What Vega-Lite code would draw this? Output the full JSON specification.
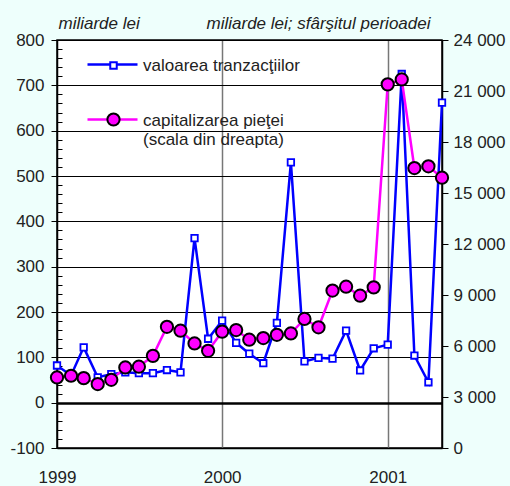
{
  "$schema": "https://vega.github.io/schema/vega-lite/v6.json",
  "width": 385,
  "height": 408,
  "autosize": {"type": "none"},
  "padding": {"left": 57, "top": 40, "right": 68, "bottom": 38},
  "background": "#EEFFFC",
  "config": {
    "view": {"fill": "white", "stroke": "black", "strokeWidth": 1.5},
    "font": "Liberation Sans",
    "axis": {
      "labelFont": "Liberation Sans",
      "labelFontSize": 17,
      "labelColor": "#222222",
      "titleFont": "Liberation Sans",
      "titleFontSize": 17,
      "titleFontWeight": "normal",
      "titleFontStyle": "italic",
      "titleColor": "#222222"
    },
    "legend": {
      "labelFont": "Liberation Sans",
      "labelFontSize": 17,
      "labelColor": "#222222",
      "labelLimit": 400,
      "padding": 0
    }
  },
  "data": {
    "values": [
      {"date": "1999-01-01", "tranz": 82, "cap": 4150},
      {"date": "1999-02-01", "tranz": 60, "cap": 4250},
      {"date": "1999-03-01", "tranz": 122, "cap": 4110},
      {"date": "1999-04-01", "tranz": 56, "cap": 3760},
      {"date": "1999-05-01", "tranz": 63, "cap": 4010},
      {"date": "1999-06-01", "tranz": 67, "cap": 4740},
      {"date": "1999-07-01", "tranz": 65, "cap": 4780},
      {"date": "1999-08-01", "tranz": 65, "cap": 5420},
      {"date": "1999-09-01", "tranz": 72, "cap": 7130},
      {"date": "1999-10-01", "tranz": 67, "cap": 6900},
      {"date": "1999-11-01", "tranz": 363, "cap": 6150},
      {"date": "1999-12-01", "tranz": 141, "cap": 5720},
      {"date": "2000-01-01", "tranz": 181, "cap": 6840},
      {"date": "2000-02-01", "tranz": 132, "cap": 6940},
      {"date": "2000-03-01", "tranz": 108, "cap": 6370},
      {"date": "2000-04-01", "tranz": 87, "cap": 6470},
      {"date": "2000-05-01", "tranz": 176, "cap": 6660},
      {"date": "2000-06-01", "tranz": 530, "cap": 6740},
      {"date": "2000-07-01", "tranz": 91, "cap": 7590},
      {"date": "2000-08-01", "tranz": 99, "cap": 7100},
      {"date": "2000-09-01", "tranz": 97, "cap": 9260},
      {"date": "2000-10-01", "tranz": 159, "cap": 9490},
      {"date": "2000-11-01", "tranz": 71, "cap": 8960},
      {"date": "2000-12-01", "tranz": 120, "cap": 9450},
      {"date": "2001-01-01", "tranz": 128, "cap": 21390},
      {"date": "2001-02-01", "tranz": 725, "cap": 21680},
      {"date": "2001-03-01", "tranz": 104, "cap": 16470},
      {"date": "2001-04-01", "tranz": 45, "cap": 16570},
      {"date": "2001-05-01", "tranz": 662, "cap": 15900}
    ]
  },
  "encoding": {
    "x": {
      "field": "date",
      "type": "temporal",
      "scale": {"type": "utc", "domain": [{"year": 1999, "month": 1, "date": 1, "utc": true}, {"year": 2001, "month": 5, "date": 1, "utc": true}]},
      "axis": {
        "title": null,
        "values": [915148800000, 946684800000, 978307200000],
        "tickCount": 100,
        "format": "%Y",
        "formatType": "utc",
        "tickSize": 0,
        "labelPadding": 21,
        "labelFlush": false,
        "labelOverlap": false,
        "labelAngle": 0,
        "grid": true,
        "gridColor": "#777777",
        "gridWidth": 1.5,
        "gridOpacity": {"condition": {"test": "time(datum.value) < 920000000000", "value": 0}, "value": 1},
        "domainColor": "black",
        "domainWidth": 1.5
      }
    }
  },
  "layer": [
    {
      "layer": [
        {
          "mark": {"type": "line", "strokeWidth": 2.5},
          "encoding": {
            "y": {
              "field": "tranz",
              "type": "quantitative",
              "scale": {"domain": [-100, 800], "nice": false, "zero": false},
              "axis": {
                "orient": "left",
                "title": "miliarde lei",
                "titleAngle": 0,
                "titleX": 1,
                "titleY": -12,
                "titleAlign": "left",
                "titleBaseline": "alphabetic",
                "values": [-100, -80, -60, -40, -20, 0, 20, 40, 60, 80, 100, 120, 140, 160, 180, 200, 220, 240, 260, 280, 300, 320, 340, 360, 380, 400, 420, 440, 460, 480, 500, 520, 540, 560, 580, 600, 620, 640, 660, 680, 700, 720, 740, 760, 780, 800],
                "tickCount": 100,
                "labelExpr": "datum.value % 100 === 0 ? '' + datum.value : ''",
                "labelOverlap": false,
                "tickSize": {"condition": {"test": "datum.value % 100 === 0", "value": 6}, "value": -5},
                "tickColor": "black",
                "labelPadding": 7,
                "grid": true,
                "gridColor": "black",
                "gridOpacity": {"condition": {"test": "datum.value % 100 === 0", "value": 1}, "value": 0},
                "gridWidth": {"condition": {"test": "datum.value === 0", "value": 2.5}, "value": 1},
                "domainColor": "black",
                "domainWidth": 1.5
              }
            },
            "color": {
              "datum": "valoarea tranzacţiilor",
              "type": "nominal",
              "scale": {"domain": ["valoarea tranzacţiilor", "capitalizarea pieţei"], "range": ["#0000FF", "#FF00FF"]},
              "legend": {
                "orient": "none",
                "legendX": 29,
                "legendY": -2,
                "title": null,
                "symbolType": "stroke",
                "symbolSize": 2500,
                "symbolStrokeWidth": 2.5,
                "labelOffset": 4,
                "rowPadding": 19,
                "labelBaseline": "alphabetic",
                "labelExpr": "datum.value == 'capitalizarea pieţei' ? ['capitalizarea pieţei', '(scala din dreapta)'] : datum.label",
                "encode": {"labels": {"update": {"dy": {"value": 6}}}}
              }
            }
          }
        },
        {
          "mark": {"type": "point", "filled": true, "strokeWidth": 1.8, "opacity": 1},
          "encoding": {
            "y": {"field": "tranz", "type": "quantitative"},
            "shape": {
              "datum": "a",
              "type": "nominal",
              "scale": {"domain": ["a", "b"], "range": ["square", "circle"]},
              "legend": {
                "orient": "none",
                "legendX": 48,
                "legendY": 17,
                "title": null,
                "labelExpr": "''",
                "symbolStrokeWidth": 2,
                "rowPadding": 35
              }
            },
            "fill": {
              "datum": "a",
              "type": "nominal",
              "scale": {"domain": ["a", "b"], "range": ["white", "#FF00FF"]}
            },
            "stroke": {
              "datum": "a",
              "type": "nominal",
              "scale": {"domain": ["a", "b"], "range": ["#0000FF", "black"]}
            },
            "size": {
              "datum": "a",
              "type": "nominal",
              "scale": {"domain": ["a", "b"], "range": [42, 150]}
            }
          }
        }
      ]
    },
    {
      "layer": [
        {
          "mark": {"type": "line", "strokeWidth": 2.5},
          "encoding": {
            "y": {
              "field": "cap",
              "type": "quantitative",
              "scale": {"domain": [0, 24000], "nice": false},
              "axis": {
                "orient": "right",
                "title": "miliarde lei; sfârşitul perioadei",
                "titleAngle": 0,
                "titleX": -12,
                "titleY": -12,
                "titleAlign": "right",
                "titleBaseline": "alphabetic",
                "values": [0, 3000, 6000, 9000, 12000, 15000, 18000, 21000, 24000],
                "tickCount": 100,
                "labelExpr": "datum.value >= 1000 ? floor(datum.value / 1000) + ' 000' : '0'",
                "labelOverlap": false,
                "tickSize": 6,
                "tickColor": "black",
                "labelPadding": 5,
                "grid": false,
                "domainColor": "black",
                "domainWidth": 1.5
              }
            },
            "color": {"datum": "capitalizarea pieţei", "type": "nominal"}
          }
        },
        {
          "mark": {"type": "point", "filled": true, "strokeWidth": 2, "opacity": 1},
          "encoding": {
            "y": {"field": "cap", "type": "quantitative"},
            "shape": {"datum": "b", "type": "nominal"},
            "fill": {"datum": "b", "type": "nominal"},
            "stroke": {"datum": "b", "type": "nominal"},
            "size": {"datum": "b", "type": "nominal"}
          }
        }
      ]
    }
  ],
  "resolve": {"scale": {"y": "independent"}}
}
